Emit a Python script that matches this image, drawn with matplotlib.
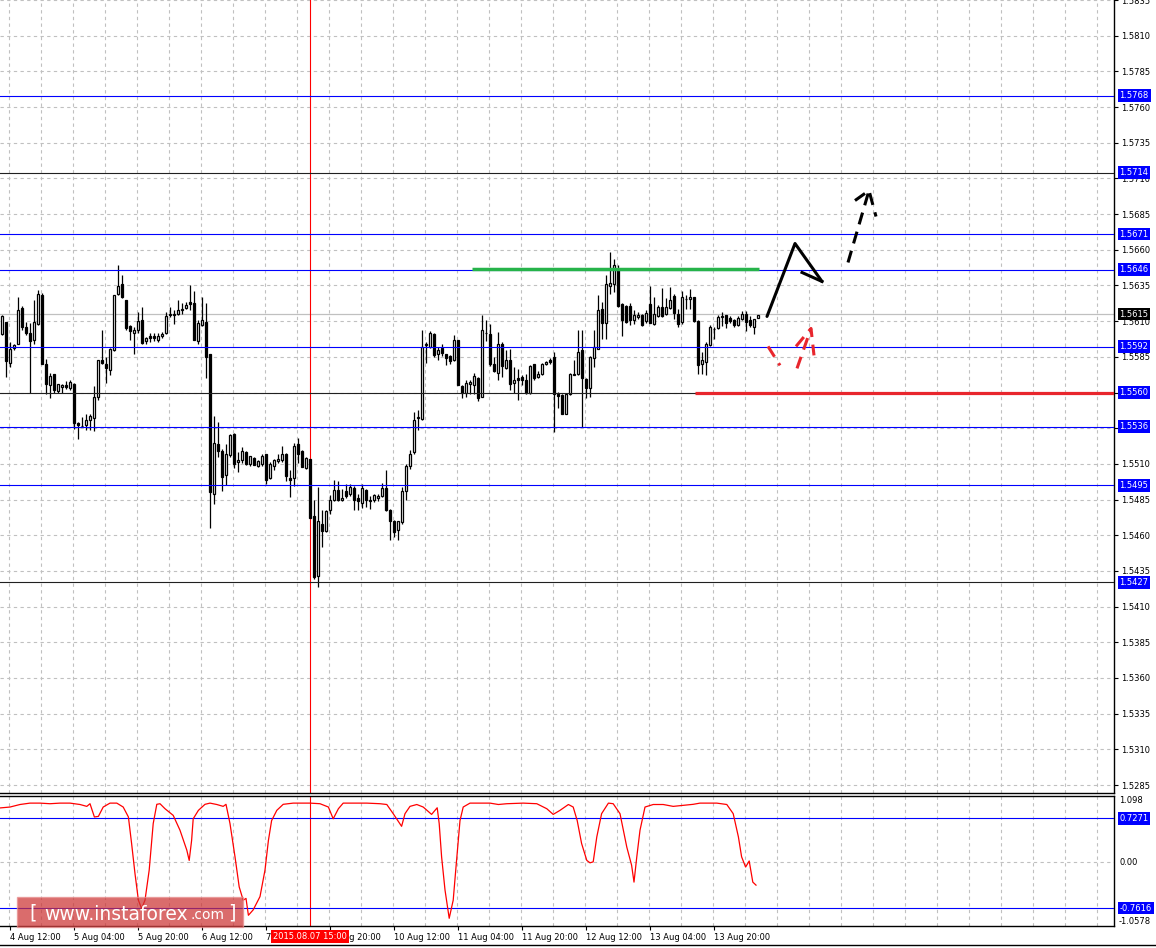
import matplotlib
matplotlib.use("Agg")
import matplotlib.pyplot as plt
import numpy as np
from matplotlib.transforms import blended_transform_factory
from matplotlib.patches import Rectangle
from matplotlib.lines import Line2D

# H1 candles, pips above 1.5000 (bar 0 = 4 Aug 10:00)
opens = [601.2, 609.3, 580.6, 591.4, 594.2, 619.4, 605.8, 601.6, 596.5, 608.2,
         628.0, 579.7, 565.2, 572.7, 561.0, 563.8, 565.5, 563.4, 566.2, 538.6,
         536.3, 537.2, 541.0, 542.4, 556.8, 583.0, 580.2, 576.0, 589.5, 629.2,
         636.2, 625.0, 606.3, 601.6, 604.0, 611.0, 596.0, 599.8, 599.8, 596.5,
         599.3, 601.6, 614.0, 614.2, 615.2, 617.5, 619.4, 623.1, 622.6, 596.0,
         607.0, 609.1, 586.7, 489.2, 524.2, 518.8, 502.5, 516.5, 531.2, 511.3,
         512.5, 518.6, 510.2, 514.4, 508.3, 510.2, 516.7, 500.4, 508.3, 512.3,
         513.0, 517.2, 500.4, 500.4, 523.7, 519.0, 507.4, 513.2, 473.3, 431.3,
         468.2, 463.0, 477.5, 484.5, 491.5, 484.5, 491.0, 488.7, 493.4, 486.4,
         482.6, 492.0, 484.0, 484.5, 486.4, 487.3, 493.4, 477.5, 470.0, 463.5,
         469.3, 491.0, 508.3, 518.3, 542.4, 541.7, 593.2, 591.8, 601.2, 586.7,
         591.4, 586.7, 585.3, 582.5, 596.5, 564.3, 559.6, 566.2, 565.0, 570.4,
         556.8, 601.6, 601.2, 579.7, 573.6, 594.2, 577.4, 582.5, 566.6, 570.4,
         570.8, 568.5, 559.6, 579.7, 570.8, 572.7, 580.2, 583.0, 584.8, 559.2,
         558.0, 545.2, 558.7, 572.2, 572.7, 589.5, 569.7, 563.4, 584.4, 590.7,
         618.2, 608.9, 634.5, 636.2, 645.5, 622.2, 620.5, 620.3, 610.5, 613.1,
         614.0, 609.8, 622.2, 608.2, 613.5, 619.8, 615.2, 619.1, 627.5, 615.2,
         609.3, 625.2, 625.2, 626.8, 609.8, 580.2, 581.3, 593.5, 604.2, 605.1,
         613.0, 614.0, 612.1, 610.5, 607.5, 611.2, 615.2, 610.5, 605.8, 612.1]
highs = [614.0, 609.3, 595.3, 594.0, 626.8, 620.3, 609.3, 608.6, 625.0, 632.0,
         629.6, 583.4, 573.6, 573.2, 566.2, 566.2, 568.0, 568.5, 566.6, 539.1,
         542.8, 545.2, 545.2, 564.3, 583.0, 604.0, 584.8, 591.4, 628.0, 649.0,
         642.0, 625.0, 607.0, 605.8, 616.3, 619.8, 598.8, 601.6, 601.6, 601.6,
         602.3, 616.3, 619.8, 617.5, 624.5, 622.6, 623.3, 635.0, 631.0, 610.5,
         626.8, 622.6, 586.7, 543.3, 539.3, 520.7, 524.2, 531.2, 531.6, 518.3,
         521.8, 519.0, 515.8, 514.8, 512.5, 517.2, 517.2, 511.3, 513.4, 516.7,
         522.3, 517.6, 505.5, 524.6, 528.4, 520.0, 514.8, 513.6, 485.0, 493.8,
         478.0, 478.0, 488.0, 499.0, 497.8, 492.7, 495.7, 495.7, 494.5, 489.2,
         495.7, 492.7, 487.3, 488.7, 489.2, 496.6, 505.5, 478.7, 471.0, 470.0,
         493.8, 510.2, 520.0, 546.3, 548.0, 604.0, 595.3, 603.0, 601.6, 591.8,
         593.7, 587.2, 586.0, 600.0, 597.0, 565.0, 568.5, 568.5, 573.6, 570.8,
         614.0, 611.0, 607.7, 584.8, 602.1, 595.1, 590.0, 590.7, 577.8, 576.7,
         572.0, 573.2, 579.0, 580.2, 575.0, 580.6, 582.0, 584.4, 588.3, 560.3,
         558.7, 559.2, 573.6, 582.5, 603.5, 604.0, 570.4, 585.3, 603.5, 628.0,
         623.3, 642.0, 658.3, 653.7, 649.0, 622.9, 621.0, 622.9, 617.5, 616.3,
         615.2, 617.5, 634.5, 626.8, 621.0, 633.1, 626.1, 633.8, 629.2, 618.7,
         630.8, 628.0, 632.7, 626.8, 610.5, 588.3, 595.3, 607.0, 605.8, 614.0,
         616.3, 614.5, 613.5, 611.2, 613.5, 616.8, 616.8, 613.5, 611.7, 614.0]
lows = [600.0, 570.8, 577.8, 590.0, 594.0, 603.5, 600.0, 559.6, 594.2, 607.0,
        579.7, 559.2, 556.4, 559.6, 559.6, 559.6, 562.7, 562.0, 534.7, 527.2,
        535.8, 534.0, 533.5, 533.0, 554.5, 580.2, 566.6, 572.0, 589.0, 628.0,
        626.4, 603.5, 596.5, 586.7, 601.6, 594.2, 594.2, 595.3, 596.0, 595.3,
        598.4, 600.7, 612.8, 608.2, 614.0, 615.2, 618.7, 617.5, 596.5, 594.2,
        606.5, 570.4, 465.4, 482.2, 514.8, 491.0, 495.2, 514.8, 507.4, 504.3,
        510.6, 509.0, 508.8, 509.0, 507.8, 508.3, 496.2, 499.7, 505.5, 510.6,
        511.3, 498.0, 486.8, 494.3, 510.6, 507.8, 506.7, 472.4, 429.0, 423.4,
        451.8, 462.3, 475.2, 484.0, 484.0, 483.8, 486.4, 487.3, 478.0, 478.0,
        479.4, 479.8, 478.7, 483.3, 484.0, 486.8, 477.0, 457.0, 458.8, 456.5,
        468.0, 484.5, 506.7, 516.7, 534.0, 540.5, 580.6, 591.4, 584.8, 583.0,
        585.3, 579.0, 580.2, 582.0, 565.0, 556.4, 556.8, 558.7, 558.7, 554.0,
        556.8, 596.0, 578.3, 574.3, 568.5, 570.8, 576.7, 562.0, 559.6, 554.5,
        565.0, 559.2, 558.7, 569.0, 570.4, 572.0, 579.0, 580.2, 532.3, 549.4,
        544.7, 544.7, 558.0, 572.0, 572.0, 535.8, 556.4, 556.8, 577.8, 590.7,
        597.7, 597.7, 629.2, 630.3, 619.8, 599.5, 608.9, 607.5, 608.2, 611.7,
        606.5, 608.9, 608.4, 607.5, 612.8, 612.8, 614.0, 618.7, 611.7, 605.8,
        608.2, 618.2, 618.7, 609.3, 573.2, 573.2, 572.0, 592.5, 597.7, 604.2,
        606.5, 605.1, 608.9, 605.8, 606.5, 610.5, 602.8, 605.8, 601.2, 612.1]
closes = [613.3, 582.0, 590.7, 593.5, 618.0, 605.8, 601.6, 596.0, 609.1, 629.2,
          579.7, 566.2, 571.3, 562.0, 565.7, 565.0, 563.8, 567.1, 538.6, 537.2,
          536.8, 540.5, 543.3, 556.8, 582.5, 580.6, 576.9, 590.4, 628.0, 634.8,
          626.8, 605.4, 603.0, 603.5, 610.0, 594.6, 598.4, 597.9, 598.4, 599.3,
          601.2, 613.3, 615.2, 615.2, 618.0, 618.7, 621.0, 622.2, 597.0, 608.4,
          610.5, 584.8, 490.3, 524.9, 519.0, 500.8, 517.2, 530.5, 510.2, 513.0,
          519.0, 510.2, 515.3, 509.5, 511.8, 515.3, 499.0, 509.7, 512.5, 513.2,
          516.7, 501.3, 499.0, 522.3, 517.2, 507.8, 514.4, 472.4, 430.4, 469.8,
          463.0, 476.8, 484.5, 492.0, 484.5, 486.4, 487.3, 493.8, 484.5, 483.8,
          493.4, 484.5, 484.5, 488.0, 487.3, 493.4, 477.5, 470.0, 462.3, 470.0,
          491.0, 508.3, 517.2, 541.0, 542.8, 591.8, 593.7, 601.9, 586.0, 590.0,
          587.6, 584.4, 582.0, 597.0, 565.0, 559.6, 566.6, 567.1, 571.3, 556.4,
          603.5, 602.0, 580.2, 575.0, 594.2, 578.3, 583.0, 566.2, 569.0, 568.5,
          568.5, 559.6, 578.3, 570.4, 573.2, 579.7, 581.3, 581.3, 558.7, 557.3,
          545.2, 558.7, 573.2, 572.7, 588.3, 570.4, 563.4, 584.8, 591.8, 617.5,
          608.9, 636.2, 636.9, 649.0, 620.5, 610.5, 609.3, 610.5, 614.0, 614.0,
          607.5, 615.9, 608.9, 615.2, 619.8, 613.5, 619.8, 624.5, 615.9, 608.2,
          626.8, 625.5, 626.8, 609.8, 579.0, 582.5, 594.2, 605.8, 604.5, 612.8,
          613.3, 608.9, 609.8, 607.0, 612.1, 615.2, 609.3, 607.0, 611.2, 614.0]

# indicator readings (bar position, value)
ind_bar = [-0.5, 2, 4.5, 7, 9.5, 12, 14.5, 17, 19.5, 21.2, 22, 23.1, 24.1, 25.3, 27,
           28.7, 30.3, 31.6, 32.4, 33.25, 34.1, 34.9, 35.75, 36.8, 37.8, 38.7, 39.5,
           40.75, 42.8, 44.5, 46.2, 46.8, 47.4, 47.8, 49.1, 50.75, 52, 53.7, 55.3, 56,
           57, 58.25, 59.3, 60.3, 61, 61.6, 62.8, 64.5, 65.75, 66.6, 67.4, 68.7, 70.3,
           72.8, 77, 79.5, 81.6, 82.8, 84.1, 85.3, 91.2, 94.5, 96.2, 97.8, 99.9,
           100.75, 102, 103.7, 105.3, 107.4, 108.25, 108.8, 109.3, 109.9, 110.75,
           111.8, 112.8, 113.5, 114.5, 115.3, 117, 122, 124.1, 126.2, 130.3, 133.7,
           136.2, 137.8, 139.5, 141.6, 142.8, 143.8, 144.9, 146.2, 147, 147.8, 148.7,
           149.9, 151.6, 152.8, 154.5, 156.2, 157.4, 158, 158.7, 159.5, 160.75,
           162.8, 165.3, 167.8, 172.8, 174.5, 178.7, 181.2, 182.8, 184.1, 184.9,
           185.9, 186.8, 187.7, 188.5]
ind_val = [0.90, 0.915, 0.957, 0.98, 0.98, 0.97, 0.98, 0.98, 0.957, 0.926, 0.97, 0.75,
           0.76, 0.915, 0.98, 0.98, 0.915, 0.75, 0.31, -0.19, -0.63, -0.77, -0.63,
           -0.13, 0.64, 0.96, 0.97, 0.887, 0.777, 0.53, 0.20, 0.03, 0.36, 0.72, 0.86,
           0.96, 0.98, 0.957, 0.926, 0.96, 0.64, 0.09, -0.41, -0.63, -0.60, -0.88,
           -0.79, -0.57, -0.13, 0.36, 0.69, 0.86, 0.96, 0.98, 0.98, 0.97, 0.915, 0.72,
           0.887, 0.98, 0.98, 0.97, 0.957, 0.805, 0.595, 0.805, 0.926, 0.957, 0.915,
           0.793, 0.86, 0.903, 0.64, 0.09, -0.46, -0.93, -0.63, -0.08, 0.69, 0.915,
           0.98, 0.98, 0.957, 0.97, 0.98, 0.97, 0.887, 0.793, 0.86, 0.957, 0.915,
           0.69, 0.31, 0.03, -0.01, 0.006, 0.42, 0.805, 0.98, 0.97, 0.805, 0.25,
           -0.05, -0.33, 0.09, 0.53, 0.915, 0.957, 0.957, 0.926, 0.96, 0.98, 0.98,
           0.957, 0.805, 0.42, 0.09, -0.08, 0.02, -0.33, -0.38]

blue_levels = [1.5768, 1.5671, 1.5646, 1.5592, 1.5536, 1.5495]
dark_levels = [1.5714, 1.5560, 1.5427]
last_price = 1.5615
ind_levels = [0.7271, -0.7616]
price_ticks = [1.5285 + 0.0025 * k for k in range(23)]

time_ticks = [2 + 16 * k for k in range(12)]
time_labels = ["4 Aug 12:00", "5 Aug 04:00", "5 Aug 20:00", "6 Aug 12:00",
               "7 Aug 04:00", "7 Aug 20:00", "10 Aug 12:00", "11 Aug 04:00",
               "11 Aug 20:00", "12 Aug 12:00", "13 Aug 04:00", "13 Aug 20:00"]
cursor_bar = 77
cursor_label = "2015.08.07 15:00"

# hand drawn forecast arrows (bar, pips)
black_path = ([191.25, 198.25, 205.0], [613.3, 664.4, 637.8])
black_tick = ([200.0, 205.0], [644.1, 637.8])
black_dash = ([211.5, 216.75], [651.1, 701.5])
black_head = ([213.25, 216.75, 218.5], [694.5, 701.5, 683.3])
red_dash1 = ([191.5, 194.5], [592.3, 579.0])
red_dash2 = ([198.75, 202.25], [576.9, 604.9])
red_head = ([198.5, 202.25, 203.0], [592.3, 604.9, 586.0])
green_seg = (117.5, 189.25, 1.56465)
red_seg = (173.25, 1.5560)

W, H = 1156, 948
plt.rcParams['font.family'] = ['DejaVu Sans']
plt.rcParams['font.size'] = 6

o = 1.5 + np.array(opens) / 10000
h = 1.5 + np.array(highs) / 10000
l = 1.5 + np.array(lows) / 10000
c = 1.5 + np.array(closes) / 10000
x = np.arange(len(c))

def pip(v):
    return 1.5 + np.array(v) / 10000

fig = plt.figure(figsize=(W / 100, H / 100), dpi=100)
ax = fig.add_axes([0, 1 - 793 / H, 1114 / W, 793 / H])
ax2 = fig.add_axes([0, 1 - 926 / H, 1114 / W, 130 / H])

xmin, xmax = -0.5, 278
grid_kw = dict(color='#c0c0c0', lw=0.8, linestyle=(0, (3, 3)), zorder=0)

# main panel
ax.set_xlim(xmin, xmax)
ax.set_ylim(1.52794, 1.58345)
for gx in range(2, 278, 8):
    ax.axvline(gx - 0.15, **grid_kw)
    ax2.axvline(gx - 0.15, **grid_kw)
for p in price_ticks:
    ax.axhline(p, **grid_kw)

ax.axhline(last_price, color='#c0c0c0', lw=0.9, zorder=1)
ax.axvline(cursor_bar, color='red', lw=0.8, zorder=2)

up = c >= o
ax.vlines(x, l, h, color='black', lw=0.9, zorder=3)
body_lo = np.minimum(o, c)
body_h = np.abs(c - o)
ax.bar(x[up], body_h[up], bottom=body_lo[up], width=0.62, color='white',
       edgecolor='black', linewidth=0.9, zorder=4)
ax.bar(x[~up], body_h[~up], bottom=body_lo[~up], width=0.62, color='black',
       edgecolor='black', linewidth=0.9, zorder=4)

for p in blue_levels:
    ax.axhline(p, color='#0000ff', lw=0.8, zorder=5)
for p in dark_levels:
    ax.axhline(p, color='#202020', lw=0.8, zorder=5)

ax.hlines(green_seg[2], green_seg[0], green_seg[1], color='#26b34a', lw=2.5, zorder=6)
ax.hlines(red_seg[1], red_seg[0], xmax, color='#e8262d', lw=2.3, zorder=6)

ax.plot(black_path[0], pip(black_path[1]), color='black', lw=2.2, zorder=7,
        solid_capstyle='round')
ax.plot(black_tick[0], pip(black_tick[1]), color='black', lw=2.2, zorder=7)
ax.plot(black_dash[0], pip(black_dash[1]), color='black', lw=2.2, zorder=7,
        linestyle=(0, (4, 2.5)))
ax.plot(black_head[0], pip(black_head[1]), color='black', lw=2.2, zorder=7,
        linestyle=(0, (4, 2.5)))
for seg in (red_dash1, red_dash2, red_head):
    ax.plot(seg[0], pip(seg[1]), color='#e8262d', lw=2.2, zorder=7,
            linestyle=(0, (4, 2.5)))

ax.yaxis.tick_right()
ax.set_yticks(price_ticks)
ax.set_yticklabels(["%.4f" % p for p in price_ticks])
ax.tick_params(axis='y', length=3, width=0.8, pad=2, labelsize=6)
ax.set_xticks([])
for s in ['left', 'top']:
    ax.spines[s].set_visible(False)
for s in ['right', 'bottom']:
    ax.spines[s].set_linewidth(1.0)

trans = blended_transform_factory(ax.transAxes, ax.transData)
box_x = 1 + 5.5 / 1114
for p in blue_levels + dark_levels:
    ax.text(box_x, p, "%.4f" % p, transform=trans, ha='left', va='center',
            color='white', fontsize=6, zorder=10,
            bbox=dict(boxstyle='square,pad=0.22', fc='#0000ff', ec='none'))
ax.text(box_x, last_price, "%.4f" % last_price, transform=trans, ha='left',
        va='center', color='white', fontsize=6, zorder=10,
        bbox=dict(boxstyle='square,pad=0.22', fc='black', ec='none'))

# indicator panel
ax2.set_xlim(xmin, xmax)
ax2.set_ylim(-1.0578, 1.098)
ax2.axhline(0, **grid_kw)
ax2.axvline(cursor_bar, color='red', lw=0.8, zorder=2)
for v in ind_levels:
    ax2.axhline(v, color='#0000ff', lw=0.8, zorder=3)
ax2.plot(ind_bar, ind_val, color='red', lw=0.9, zorder=4)
ax2.set_yticks([])
ax2.spines['left'].set_visible(False)
for s in ['right', 'bottom', 'top']:
    ax2.spines[s].set_linewidth(1.0)

trans2 = blended_transform_factory(ax2.transAxes, ax2.transData)
ax2.text(1 + 5 / 1114, 1.098, "1.098", transform=trans2, ha='left', va='top',
         fontsize=6)
ax2.text(1 + 5 / 1114, 0.0, "0.00", transform=trans2, ha='left', va='center',
         fontsize=6)
ax2.text(1 + 5 / 1114, -1.0578, "-1.0578", transform=trans2, ha='left',
         va='bottom', fontsize=6)
for v in ind_levels:
    ax2.text(box_x, v, "%.4f" % v, transform=trans2, ha='left', va='center',
             color='white', fontsize=6, zorder=10,
             bbox=dict(boxstyle='square,pad=0.22', fc='#0000ff', ec='none'))

ax2.set_xticks(time_ticks)
ax2.set_xticklabels(time_labels)
for lab in ax2.get_xticklabels():
    lab.set_ha('left')
ax2.tick_params(axis='x', length=3, width=0.8, pad=2, labelsize=6)

trans3 = blended_transform_factory(ax2.transData, ax2.transAxes)
ax2.text(cursor_bar, -10.5 / 130, cursor_label, transform=trans3, ha='center',
         va='center', color='white', fontsize=6, zorder=10,
         bbox=dict(boxstyle='square,pad=0.25', fc='#ff0000', ec='none'))

# watermark
fig.add_artist(Rectangle((17 / W, 1 - 927 / H), 226 / W, 30 / H,
                         transform=fig.transFigure, fc='#cc3333', alpha=0.72,
                         ec='#e89090', lw=1.0, zorder=20))
fig.text(29 / W, 1 - 913 / H, "[", color='white', fontsize=14, va='center',
         ha='left', zorder=21)
fig.text(44 / W, 1 - 914 / H, "www.instaforex", color='white', fontsize=13.5,
         va='center', ha='left', zorder=21)
fig.text(190 / W, 1 - 915 / H, ".com", color='white', fontsize=10,
         va='center', ha='left', zorder=21)
fig.text(228 / W, 1 - 913 / H, "]", color='white', fontsize=14, va='center',
         ha='left', zorder=21)

fig.add_artist(Line2D([0, 1], [1 - 945 / H, 1 - 945 / H], transform=fig.transFigure,
                      color='black', lw=1.0))

fig.savefig("out.png", dpi=100)
